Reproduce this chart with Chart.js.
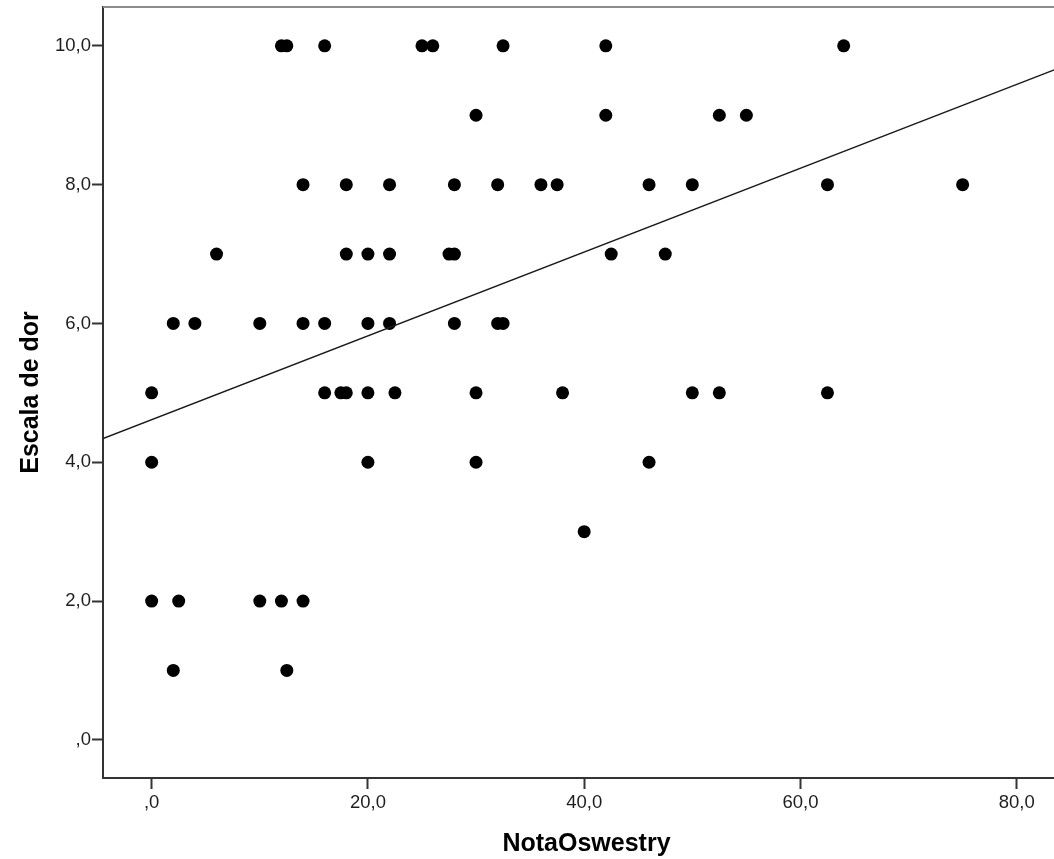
<!DOCTYPE html>
<html lang="pt">
<head>
    <meta charset="UTF-8">
    <title>Escala de dor vs NotaOswestry</title>
    <script src="https://cdn.jsdelivr.net/npm/chart.js"></script>
    <style>
        html, body { margin: 0; padding: 0; background: #fff; overflow: hidden; }
        canvas { display: block; }
    </style>
</head>
<body>
    <canvas id="scatter" width="1070" height="859"></canvas>
    <script>
        // values
        const notaOswestry = [
            12, 12.5, 16, 25, 26, 32.5, 42, 64,
            30, 42, 52.5, 55,
            14, 18, 22, 28, 32, 36, 37.5, 46, 50, 62.5, 75,
            6, 18, 20, 22, 27.5, 28, 42.5, 47.5,
            2, 4, 10, 14, 16, 20, 22, 28, 32, 32.5,
            0, 16, 17.5, 18, 20, 22.5, 30, 38, 50, 52.5, 62.5,
            0, 20, 30, 46,
            40,
            0, 2.5, 10, 12, 14,
            2, 12.5
        ];
        const escalaDor = [
            10, 10, 10, 10, 10, 10, 10, 10,
            9, 9, 9, 9,
            8, 8, 8, 8, 8, 8, 8, 8, 8, 8, 8,
            7, 7, 7, 7, 7, 7, 7, 7,
            6, 6, 6, 6, 6, 6, 6, 6, 6, 6,
            5, 5, 5, 5, 5, 5, 5, 5, 5, 5, 5,
            4, 4, 4, 4,
            3,
            2, 2, 2, 2, 2,
            1, 1
        ];

        // fit line ends, where it meets the frame
        const fitX = [-4.5, 84.9];
        const fitY = [4.34, 9.74];

        const xTicks = [0, 20, 40, 60, 80];
        const xTickLabels = [',0', '20,0', '40,0', '60,0', '80,0'];
        const yTicks = [0, 2, 4, 6, 8, 10];
        const yTickLabels = [',0', '2,0', '4,0', '6,0', '8,0', '10,0'];

        const points = notaOswestry.map((x, i) => ({ x: x, y: escalaDor[i] }));
        const fitLine = fitX.map((x, i) => ({ x: x, y: fitY[i] }));

        const topFrame = {
            id: 'topFrame',
            afterDraw(chart) {
                const { ctx, chartArea } = chart;
                ctx.save();
                ctx.strokeStyle = '#8c8c8c';
                ctx.lineWidth = 2;
                ctx.beginPath();
                ctx.moveTo(chartArea.left, chartArea.top);
                ctx.lineTo(chartArea.right, chartArea.top);
                ctx.stroke();
                ctx.restore();
            }
        };

        const tickFont = { family: 'Liberation Sans, Arial, sans-serif', size: 18.5 };
        const titleFont = { family: 'Liberation Sans, Arial, sans-serif', size: 25, weight: 'bold' };

        new Chart(document.getElementById('scatter'), {
            type: 'scatter',
            data: {
                datasets: [
                    {
                        type: 'line',
                        data: fitLine,
                        borderColor: '#1a1a1a',
                        borderWidth: 1.5,
                        pointRadius: 0,
                        fill: false
                    },
                    {
                        data: points,
                        backgroundColor: '#000',
                        borderWidth: 0,
                        pointRadius: 6.5,
                        pointHoverRadius: 6.5
                    }
                ]
            },
            options: {
                responsive: false,
                animation: false,
                layout: { autoPadding: false, padding: { top: 7, left: 0, right: 0, bottom: 0 } },
                plugins: {
                    legend: { display: false },
                    tooltip: { enabled: false }
                },
                scales: {
                    x: {
                        type: 'linear',
                        min: -4.5,
                        max: 84.93,
                        afterFit(scale) {
                            scale.height = 81;
                            scale.paddingLeft = 0;
                            scale.paddingRight = 0;
                        },
                        afterBuildTicks(scale) { scale.ticks = xTicks.map(v => ({ value: v })); },
                        border: { color: '#333', width: 2 },
                        grid: { drawOnChartArea: false, drawTicks: true, tickLength: 11, tickWidth: 2, tickColor: '#333' },
                        ticks: {
                            color: '#1e1e1e',
                            font: tickFont,
                            padding: 3,
                            maxRotation: 0,
                            callback: (v) => xTickLabels[xTicks.indexOf(v)]
                        },
                        title: {
                            display: true,
                            text: 'NotaOswestry',
                            color: '#000',
                            font: titleFont,
                            padding: { top: 0, bottom: 0 }
                        }
                    },
                    y: {
                        type: 'linear',
                        min: -0.55,
                        max: 10.56,
                        afterFit(scale) {
                            scale.width = 103;
                            scale.paddingTop = 0;
                            scale.paddingBottom = 0;
                        },
                        afterBuildTicks(scale) { scale.ticks = yTicks.map(v => ({ value: v })); },
                        border: { color: '#333', width: 2 },
                        grid: { drawOnChartArea: false, drawTicks: true, tickLength: 11, tickWidth: 2, tickColor: '#333' },
                        ticks: {
                            color: '#1e1e1e',
                            font: tickFont,
                            padding: 1,
                            callback: (v) => yTickLabels[yTicks.indexOf(v)]
                        },
                        title: {
                            display: true,
                            text: 'Escala de dor',
                            color: '#000',
                            font: titleFont,
                            padding: { top: 16, bottom: 0 }
                        }
                    }
                }
            },
            plugins: [topFrame]
        });
    </script>
</body>
</html>
